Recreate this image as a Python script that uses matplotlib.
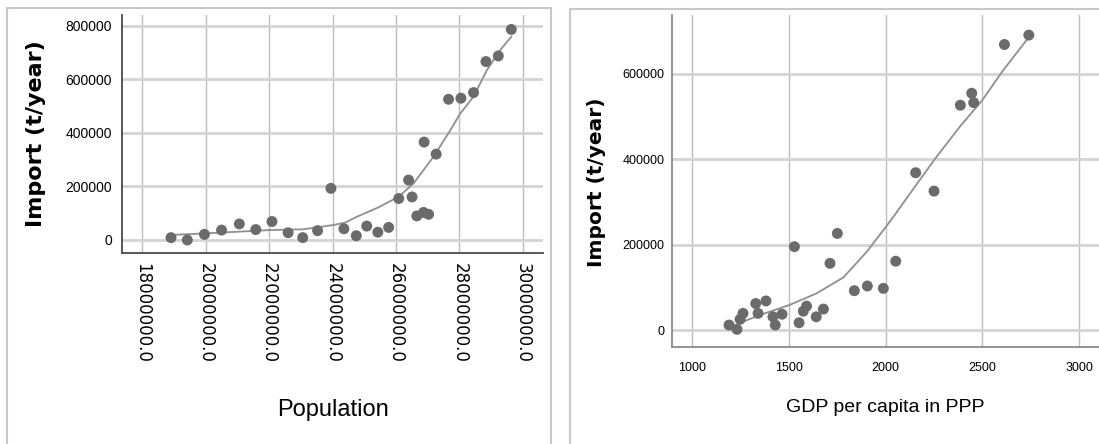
# Two scatter panels (SPSS style): import vs population, import vs GDP per capita,
# each with its loess fit line.

import matplotlib
matplotlib.use("Agg")
import matplotlib.pyplot as plt
from matplotlib import font_manager
from matplotlib.patches import Rectangle
from matplotlib.ticker import FormatStrFormatter

# --- data: left panel (population) ---
population = [18905000, 19420000, 19960000, 20500000, 21060000, 21580000, 22090000,
              22600000, 23060000, 23530000, 23950000, 24360000, 24750000, 25080000,
              25430000, 25770000, 26090000, 26400000, 26510000, 26660000, 26870000,
              27030000, 26890000, 27270000, 27660000, 28050000, 28450000, 28840000,
              29230000, 29640000]
import_pop = [8700, 0, 21000, 37000, 60000, 39000, 69000, 27000, 9000, 35000,
              193000, 42000, 16000, 52000, 29000, 47000, 155000, 224000, 161000, 90000,
              103000, 96000, 366000, 321000, 526000, 530000, 551000, 667000, 688000, 787000]
fit_pop_x = [18905000, 20010000, 22010000, 23080000, 24030000, 24400000, 24770000,
             25450000, 26090000, 26560000, 27190000, 27720000, 28030000, 28450000,
             28870000, 29290000, 29640000]
fit_pop_y = [18700, 25000, 37000, 40000, 56000, 65000, 87000, 122000, 162000, 212000,
             312000, 411000, 473000, 536000, 635000, 710000, 760000]
pop_ticks = [18000000, 20000000, 22000000, 24000000, 26000000, 28000000, 30000000]
pop_yticks = [0, 200000, 400000, 600000, 800000]

# --- data: right panel (GDP per capita) ---
gdp = [1190, 1231, 1247, 1262, 1328, 1340, 1381, 1417, 1429, 1464, 1528, 1552, 1574,
       1591, 1641, 1678, 1712, 1750, 1838, 1905, 1988, 2052, 2155, 2250, 2386, 2445,
       2455, 2614, 2740]
import_gdp = [11700, 1600, 25000, 39000, 62000, 39000, 68000, 31000, 11700, 37000,
              195000, 17000, 44000, 56000, 31000, 49000, 156000, 226000, 92000, 103000,
              97500, 161000, 368000, 325000, 526000, 554000, 532000, 668000, 690000]
fit_gdp_x = [1262, 1350, 1502, 1643, 1781, 1902, 2002, 2040, 2160, 2264, 2384, 2500,
             2608, 2740]
fit_gdp_y = [19500, 35100, 58500, 85800, 123000, 183000, 242000, 265000, 341000,
             406000, 476000, 538000, 608000, 685000]
gdp_ticks = [1000, 1500, 2000, 2500, 3000]
gdp_yticks = [0, 200000, 400000, 600000]

W, H = 1099, 444
DOT = "#6b6b6b"
FIT = "#8f8f8f"
HGRID = "#d4d4d4"
VGRID = "#bdbdbd"

# SPSS uses a narrow Arial; use Liberation Sans Narrow if it is installed
installed = {f.name for f in font_manager.fontManager.ttflist}
if "Liberation Sans Narrow" in installed:
    NARROW = "Liberation Sans Narrow"
    sz_ytick, sz_tick2, sz_pop, sz_gdp = 12.5, 11, 20, 17
else:
    NARROW = "Liberation Sans"
    sz_ytick, sz_tick2, sz_pop, sz_gdp = 10, 9, 17, 14


def px_axes(fig, x0, y0, x1, y1):
    # pixel box (top-left origin) -> figure axes
    return fig.add_axes([x0 / W, 1 - y1 / H, (x1 - x0) / W, (y1 - y0) / H])


def style(ax, spine_color):
    for s in ("top", "right"):
        ax.spines[s].set_visible(False)
    for s in ("left", "bottom"):
        ax.spines[s].set_color(spine_color)
        ax.spines[s].set_linewidth(1.3)
    ax.set_axisbelow(True)
    ax.tick_params(length=0)
    ax.yaxis.grid(True, color=HGRID, lw=2.0)
    ax.xaxis.grid(True, color=VGRID, lw=1.0)


fig = plt.figure(figsize=(W / 100, H / 100), dpi=100)

# panel frames
fig.patches.append(Rectangle((7 / W, -0.1), (551 - 7) / W, 1.1 - 8 / H,
                             transform=fig.transFigure, fill=False,
                             ec="#c8c8c8", lw=1.5))
fig.patches.append(Rectangle((570 / W, -0.1), 0.6, 1.1 - 9 / H,
                             transform=fig.transFigure, fill=False,
                             ec="#c8c8c8", lw=1.5))

# left panel
ax1 = px_axes(fig, 121.7, 15, 543, 253)
style(ax1, "#4a4a4a")
ax1.plot(fit_pop_x, fit_pop_y, color=FIT, lw=1.3, zorder=2)
ax1.scatter(population, import_pop, s=62, color=DOT, edgecolors="none", zorder=3)
ax1.set_xlim(17350000, 30640000)
ax1.set_ylim(-48600, 841000)
ax1.set_xticks(pop_ticks)
ax1.set_yticks(pop_yticks)
ax1.xaxis.set_major_formatter(FormatStrFormatter("%.1f"))
ax1.yaxis.set_major_formatter(FormatStrFormatter("%d"))
for lab in ax1.get_xticklabels():
    lab.set_rotation(-90)
    lab.set_fontfamily("DejaVu Sans")
    lab.set_fontsize(12)
    lab.set_va("top")
for lab in ax1.get_yticklabels():
    lab.set_fontfamily(NARROW)
    lab.set_fontsize(sz_ytick)
ax1.tick_params(axis="x", pad=7)
ax1.tick_params(axis="y", pad=7)

# right panel
ax2 = px_axes(fig, 671.7, 15, 1099, 346.7)
style(ax2, "#8a8a8a")
ax2.plot(fit_gdp_x, fit_gdp_y, color=FIT, lw=1.3, zorder=2)
ax2.scatter(gdp, import_gdp, s=62, color=DOT, edgecolors="none", zorder=3)
ax2.set_xlim(893.5, 3103)
ax2.set_ylim(-39000, 737000)
ax2.set_xticks(gdp_ticks)
ax2.set_yticks(gdp_yticks)
ax2.yaxis.set_major_formatter(FormatStrFormatter("%d"))
for lab in ax2.get_xticklabels() + ax2.get_yticklabels():
    lab.set_fontfamily(NARROW)
    lab.set_fontsize(sz_tick2)
ax2.tick_params(axis="x", pad=11)
ax2.tick_params(axis="y", pad=5)

# axis titles
fig.text(36 / W, 1 - 134 / H, "Import (t/year)", rotation=90, ha="center", va="center",
         fontfamily="DejaVu Sans", fontweight="bold", fontsize=16)
fig.text(597 / W, 1 - 182 / H, "Import (t/year)", rotation=90, ha="center", va="center",
         fontfamily="DejaVu Sans", fontweight="bold", fontsize=14.5)
fig.text(333 / W, 1 - 410 / H, "Population", ha="center", va="center",
         fontfamily=NARROW, fontsize=sz_pop)
fig.text(885 / W, 1 - 407 / H, "GDP per capita in PPP", ha="center", va="center",
         fontfamily=NARROW, fontsize=sz_gdp)

fig.savefig("out.png", dpi=100)
